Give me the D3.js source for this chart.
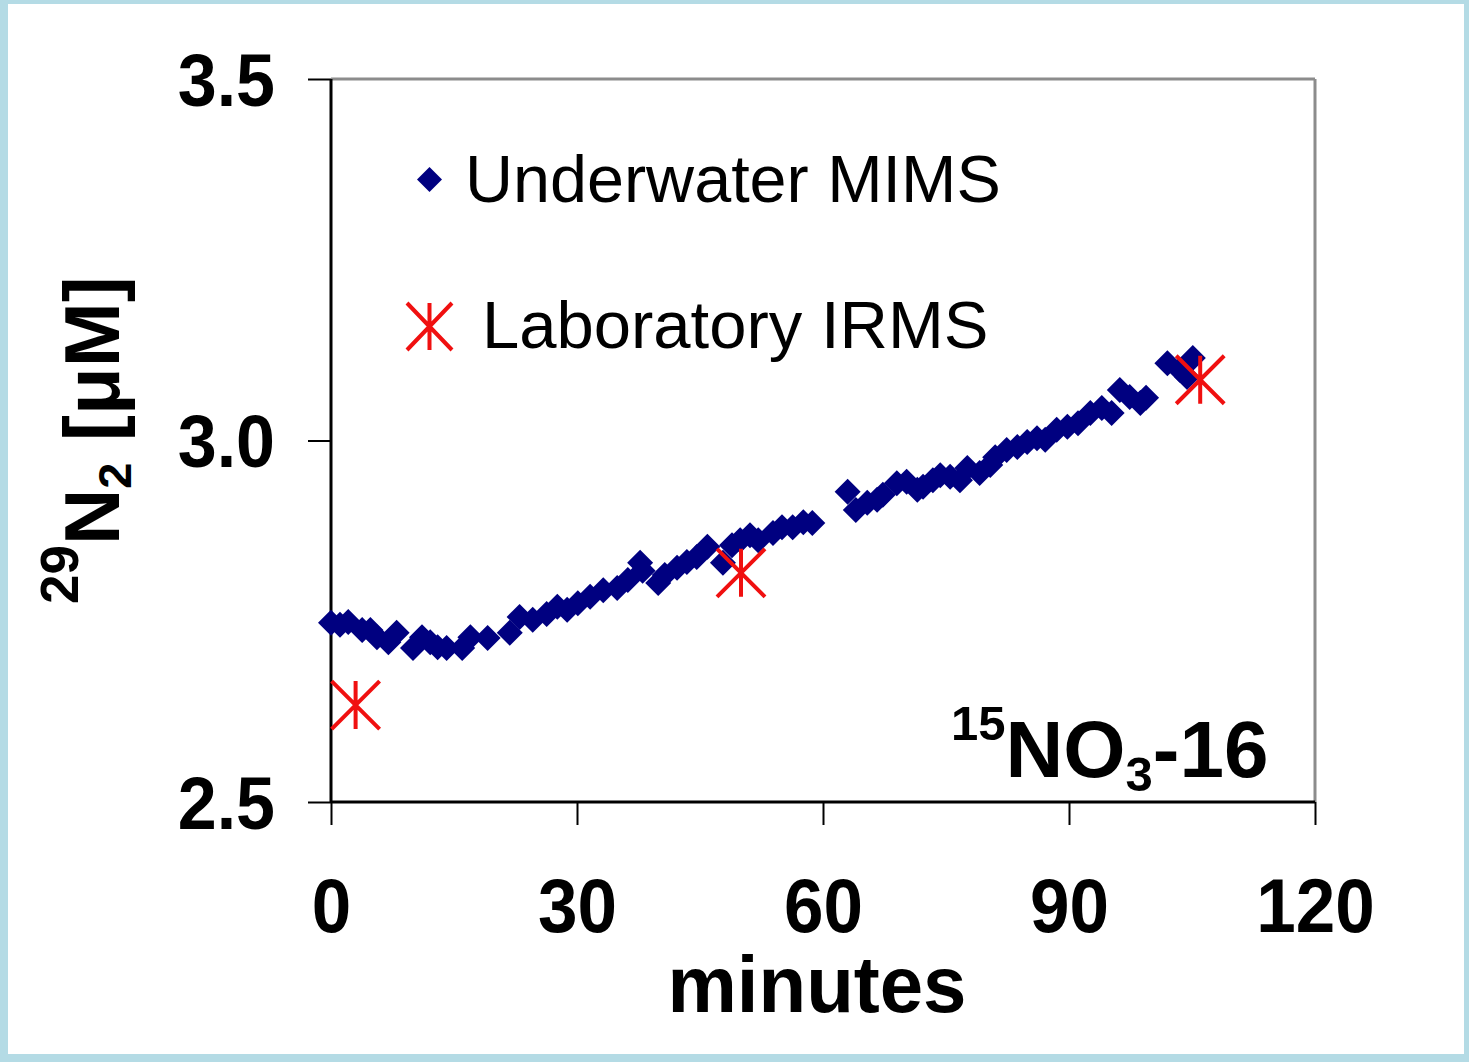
<!DOCTYPE html>
<html>
<head>
<meta charset="utf-8">
<script src="https://cdn.jsdelivr.net/npm/d3@7"></script>
<style>
  html, body { margin: 0; padding: 0; background: #b4dbe5; }
  svg { display: block; }
  text { font-family: "Liberation Sans", Arial, sans-serif; white-space: pre; }
</style>
</head>
<body>
<svg id="chart" width="1469" height="1062"></svg>
<script>
// ---- Data ----
const mimsMinutes = [0.0, 1.1, 2.1, 3.8, 4.8, 5.6, 7.0, 8.0, 10.0, 11.1, 12.1, 13.0, 14.1, 16.0, 17.0, 19.1,
  21.8, 23.0, 24.6, 26.3, 27.6, 28.8, 30.1, 31.6, 33.2, 34.9, 36.2, 37.7, 38.0, 39.9, 40.7, 42.2, 43.4, 44.6,
  45.9, 47.8, 48.9, 49.9, 51.1, 52.1, 53.9, 55.0, 56.3, 57.6, 58.7,
  63.0, 64.0, 65.4, 66.6, 67.3, 69.0, 70.2, 71.5, 72.2, 73.4, 74.3, 75.5, 76.7, 77.6, 79.1, 80.4, 81.0,
  82.4, 83.7, 84.9, 86.1, 87.1, 88.5, 89.8, 91.1, 92.6, 94.0, 95.2, 96.2, 97.4, 98.7, 99.4,
  102.0, 103.5, 104.4, 105.1];
const mimsValues = [2.748, 2.745, 2.749, 2.738, 2.738, 2.728, 2.721, 2.734, 2.713, 2.728, 2.721, 2.714, 2.713, 2.713, 2.728, 2.727,
  2.734, 2.756, 2.752, 2.760, 2.770, 2.766, 2.775, 2.784, 2.793, 2.796, 2.807, 2.831, 2.820, 2.803, 2.814, 2.824, 2.832, 2.839,
  2.853, 2.831, 2.855, 2.862, 2.869, 2.862, 2.872, 2.880, 2.880, 2.887, 2.886,
  2.929, 2.904, 2.914, 2.918, 2.925, 2.941, 2.943, 2.932, 2.936, 2.945, 2.952, 2.950, 2.945, 2.962, 2.955, 2.966, 2.977,
  2.987, 2.991, 2.998, 3.003, 3.001, 3.015, 3.019, 3.024, 3.038, 3.045, 3.038, 3.070, 3.060, 3.052, 3.059,
  3.107, 3.098, 3.088, 3.114];
const irmsMinutes = [3.0, 50.0, 106.0];
const irmsValues = [2.634, 2.817, 3.084];
const seriesNames = ["Underwater MIMS", "Laboratory IRMS"];
const xTicks = [0, 30, 60, 90, 120];
const yTicks = [2.5, 3.0, 3.5];
const xTitle = "minutes";

// ---- Layout ----
const svg = d3.select("#chart");
svg.append("rect").attr("x", 8).attr("y", 4).attr("width", 1456).attr("height", 1050).attr("fill", "#ffffff");

const x = d3.scaleLinear().domain([0, 120]).range([331, 1315]);
const y = d3.scaleLinear().domain([2.5, 3.5]).range([802, 79]);
const TS = 1.07; // vertical stretch of the reference's lettering

// plot frame: top & right gray
svg.append("line").attr("x1", x(0)).attr("x2", x(120)).attr("y1", y(3.5)).attr("y2", y(3.5))
  .attr("stroke", "#8c8c8c").attr("stroke-width", 3);
svg.append("line").attr("x1", x(120)).attr("x2", x(120)).attr("y1", y(3.5)).attr("y2", y(2.5))
  .attr("stroke", "#8c8c8c").attr("stroke-width", 3);

// axes
const yAxis = d3.axisLeft(y).tickValues(yTicks).tickSize(23).tickPadding(33).tickFormat(d3.format(".1f"));
const gy = svg.append("g").attr("transform", `translate(${x(0)},0)`).call(yAxis);
gy.select(".domain").remove();
gy.selectAll(".tick line").attr("stroke", "#000").attr("stroke-width", 2);
gy.selectAll(".tick text")
  .attr("fill", "#000").attr("font-size", 70).attr("font-weight", "bold")
  .attr("font-family", "Liberation Sans, Arial, sans-serif")
  .attr("dy", null).attr("y", 24.5).attr("x", -56)
  .attr("transform", `scale(1,${TS})`);

const xAxis = d3.axisBottom(x).tickValues(xTicks).tickSize(23).tickFormat(d3.format("d"));
const gx = svg.append("g").attr("transform", `translate(0,${y(2.5)})`).call(xAxis);
gx.select(".domain").remove();
gx.selectAll(".tick line").attr("stroke", "#000").attr("stroke-width", 2);
gx.selectAll(".tick text")
  .attr("fill", "#000").attr("font-size", 71).attr("font-weight", "bold")
  .attr("font-family", "Liberation Sans, Arial, sans-serif")
  .attr("dy", null).attr("y", 130 / TS)
  .attr("transform", `scale(1,${TS})`);

// axis lines (black) left & bottom
svg.append("line").attr("x1", x(0)).attr("x2", x(0)).attr("y1", y(3.5)).attr("y2", y(2.5))
  .attr("stroke", "#000").attr("stroke-width", 3);
svg.append("line").attr("x1", x(0)).attr("x2", x(120)).attr("y1", y(2.5)).attr("y2", y(2.5))
  .attr("stroke", "#000").attr("stroke-width", 3);

// ---- marks ----
const diamond = (r) => `M0,${-r}L${r},0L0,${r}L${-r},0Z`;
const starPath = (w, h) => `M0,${-h/2}L0,${h/2}M${-w/2},${-h/2}L${w/2},${h/2}M${-w/2},${h/2}L${w/2},${-h/2}`;
const mims = mimsMinutes.map((m, i) => ({ m, v: mimsValues[i] }));
const irms = irmsMinutes.map((m, i) => ({ m, v: irmsValues[i] }));

svg.append("g").selectAll("path").data(mims).join("path")
  .attr("d", diamond(13))
  .attr("transform", d => `translate(${x(d.m)},${y(d.v)})`)
  .attr("fill", "#000080");

svg.append("g").selectAll("path").data(irms).join("path")
  .attr("d", starPath(48, 48))
  .attr("transform", d => `translate(${x(d.m)},${y(d.v)})`)
  .attr("fill", "none").attr("stroke", "#f01010").attr("stroke-width", 4);

// ---- legend ----
const lg = svg.append("g");
lg.append("path").attr("d", diamond(12.5)).attr("transform", "translate(429.5,179.5)").attr("fill", "#000080");
lg.append("text").attr("x", 465).attr("y", 202).attr("font-size", 66.5).attr("fill", "#000").text(seriesNames[0]);
lg.append("path").attr("d", starPath(45, 47)).attr("transform", "translate(429.5,326.5)")
  .attr("fill", "none").attr("stroke", "#f01010").attr("stroke-width", 4);
lg.append("text").attr("x", 482).attr("y", 348).attr("font-size", 67).attr("fill", "#000").text(seriesNames[1]);

// ---- x title ----
svg.append("g").attr("transform", `translate(817,1012) scale(1,1.02)`)
  .append("text").attr("text-anchor", "middle").attr("font-size", 78).attr("font-weight", "bold")
  .attr("fill", "#000").text(xTitle);

// ---- y title: 29N2 [μM] ----
const yt = svg.append("g").attr("transform", "translate(119,604) rotate(-90)")
  .append("text").attr("font-weight", "bold").attr("fill", "#000");
yt.append("tspan").attr("font-size", 53).attr("dy", -41).text("29");
yt.append("tspan").attr("font-size", 78).attr("dy", 41).text("N");
yt.append("tspan").attr("font-size", 47).attr("dy", 12).text("2");
yt.append("tspan").attr("font-size", 78).attr("dy", -12).text(" [μM]");

// ---- annotation: 15NO3-16 ----
const an = svg.append("g").attr("transform", "translate(951,777)")
  .append("text").attr("font-weight", "bold").attr("fill", "#000");
an.append("tspan").attr("font-size", 49).attr("dy", -37).text("15");
an.append("tspan").attr("font-size", 80).attr("dy", 37).text("NO");
an.append("tspan").attr("font-size", 49).attr("dy", 14).text("3");
an.append("tspan").attr("font-size", 80).attr("dy", -14).text("-16");
</script>
</body>
</html>
